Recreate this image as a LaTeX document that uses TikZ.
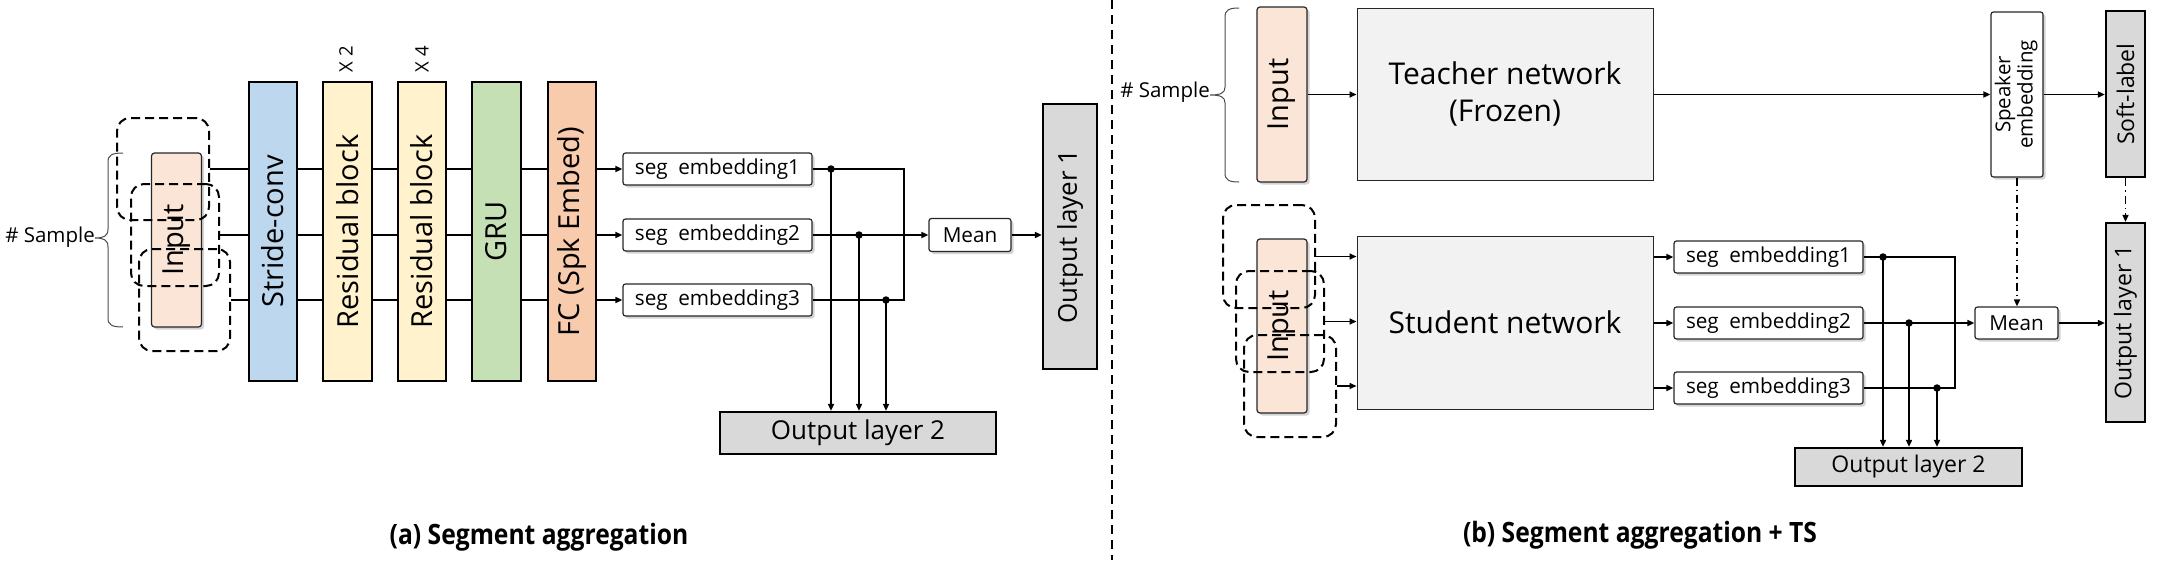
\documentclass[tikz,border=0pt]{standalone}
\usepackage{fontspec}
\usepackage{graphicx}
\setmainfont{Open Sans}
\usetikzlibrary{arrows.meta,shadows,calc}
\definecolor{cInput}{HTML}{FBE5D6}
\definecolor{cStride}{HTML}{BDD7EE}
\definecolor{cRes}{HTML}{FFF2CC}
\definecolor{cGRU}{HTML}{C5E0B4}
\definecolor{cFC}{HTML}{F8CBAD}
\definecolor{cOut}{HTML}{D9D9D9}
\definecolor{cNet}{HTML}{F2F2F2}
\newcommand\fBig{\fontsize{29}{33}\selectfont}
\newcommand\fNet{\fontsize{30}{37}\selectfont}
\newcommand\fSeg{\fontsize{20.7}{24}\selectfont}
\newcommand\fSamp{\fontsize{20.5}{24}\selectfont}
\newcommand\fOutA{\fontsize{26}{30}\selectfont}
\newcommand\fOutB{\fontsize{23}{27}\selectfont}
\newcommand\fSmall{\fontsize{18.5}{21}\selectfont}
\newcommand\fSpk{\fontsize{20.5}{22}\selectfont}
\newcommand\fCap{\fontsize{28}{32}\selectfont\bfseries}
\begin{document}
\begin{tikzpicture}[x=1pt,y=-1pt,
  colbox/.style={draw=black, line width=2pt, minimum width=48pt, minimum height=299pt, inner sep=0pt, font=\fBig},
  inbox/.style={draw=black!85, line width=1.2pt, fill=cInput, rounded corners=3pt, minimum width=50pt, minimum height=174pt, inner sep=0pt, font=\fBig, drop shadow={shadow xshift=2.5pt, shadow yshift=-2.5pt, opacity=0.35}},
  dbox/.style={draw=black, line width=2pt, dash pattern=on 9pt off 5pt, rounded corners=13pt, minimum height=102pt, inner sep=0pt},
  segbox/.style={draw=black!85, line width=1.2pt, fill=white, rounded corners=2.5pt, minimum width=189pt, minimum height=32pt, inner sep=0pt, font=\fSeg, drop shadow={shadow xshift=2.5pt, shadow yshift=-2.5pt, opacity=0.35}},
  outbox/.style={draw=black, line width=2.2pt, fill=cOut, inner sep=0pt},
  netbox/.style={draw=black!85, line width=1pt, fill=cNet, minimum width=296pt, minimum height=173pt, inner sep=0pt, font=\fNet, align=center},
  wire/.style={line width=1.6pt},
  arr/.style={line width=1.6pt, -{Triangle[length=7pt,width=6pt]}},
  dasharr/.style={line width=1.6pt, dash pattern=on 8pt off 4pt on 1.5pt off 4pt, -{Triangle[length=7pt,width=6pt]}},
  dot/.style={circle, fill=black, minimum size=7.5pt, inner sep=0pt},
  bracep/.style={line width=1pt, draw=black!70},
  lbl/.style={inner sep=0pt}
]
\useasboundingbox (0,0) rectangle (2164,560);

% ================= (a) =================
\node[inbox] (inA) at (176.5,240) {\rotatebox{90}{Input}};
\node[dbox, minimum width=92pt] (da1) at (163,169) {};
\node[dbox, minimum width=88pt] (da2) at (175,235) {};
\node[dbox, minimum width=91pt] (da3) at (184.5,300) {};

\node[lbl, anchor=east, font=\fSamp] (sampA) at (95,237) {\# Sample};
\draw[bracep] (123,153) .. controls (112,153) and (108,155) .. (108,162) -- (108,229)
  .. controls (108,236) and (104,238) .. (95,238)
  .. controls (104,238) and (108,240) .. (108,247) -- (108,318)
  .. controls (108,325) and (112,327) .. (123,327);

\node[colbox, fill=cStride] (sc) at (273,231.5) {\rotatebox{90}{Stride-conv}};
\node[colbox, fill=cRes, minimum width=49pt] (r1) at (347.5,231.5) {\rotatebox{90}{Residual block}};
\node[colbox, fill=cRes] (r2) at (422,231.5) {\rotatebox{90}{Residual block}};
\node[colbox, fill=cGRU, minimum width=49pt] (gru) at (496.5,231.5) {\rotatebox{90}{GRU}};
\node[colbox, fill=cFC] (fc) at (572,231.5) {\rotatebox{90}{FC (Spk Embed)}};
\node[lbl, font=\fSmall] (x2) at (346,59) {\rotatebox{90}{X 2}};
\node[lbl, font=\fSmall] (x4) at (422,59) {\rotatebox{90}{X 4}};

\foreach \d in {da1,da2,da3}{
  \draw[wire] (\d.east) -- (\d.east -| sc.west);
  \draw[wire] (\d.east -| sc.east) -- (\d.east -| r1.west);
  \draw[wire] (\d.east -| r1.east) -- (\d.east -| r2.west);
  \draw[wire] (\d.east -| r2.east) -- (\d.east -| gru.west);
  \draw[wire] (\d.east -| gru.east) -- (\d.east -| fc.west);
}

\node[segbox] (sa1) at (717.5,169) {seg\hspace{0.25em} embedding1};
\node[segbox] (sa2) at (717.5,235) {seg\hspace{0.25em} embedding2};
\node[segbox] (sa3) at (717.5,300) {seg\hspace{0.25em} embedding3};
\foreach \s in {sa1,sa2,sa3}{ \draw[arr] (\s.west -| fc.east) -- (\s.west); }

\node[segbox, minimum width=82pt, minimum height=33pt] (meanA) at (970,235) {Mean};
\node[outbox, minimum width=54pt, minimum height=265pt, font=\fOutA] (olA1) at (1070,236.5) {\rotatebox{90}{Output layer 1}};
\node[outbox, minimum width=276pt, minimum height=42pt, font=\fOutA] (olA2) at (858,433) {Output layer 2};

\node[dot] (ja1) at (831,169) {};
\node[dot] (ja2) at (859,235) {};
\node[dot] (ja3) at (886,300) {};
\coordinate (jva) at (904,169);
\draw[wire] (sa1.east) -- (jva) -- (jva |- sa3.east) -- (sa3.east);
\draw[arr] (sa2.east) -- (meanA.west);
\draw[arr] (meanA.east) -- (meanA.east -| olA1.west);
\foreach \j in {ja1,ja2,ja3}{ \draw[arr] (\j.center) -- (\j.center |- olA2.north); }

\node[lbl, font=\fCap] (capA) at (539,537) {\scalebox{0.88}[1]{(a) Segment aggregation}};

% divider
\draw[line width=2pt, dash pattern=on 9pt off 6pt] (1112,0) -- (1112,560);

% ================= (b) =================
\node[inbox, minimum height=175pt] (inT) at (1282,94.5) {\rotatebox{90}{Input}};
\node[lbl, anchor=east, font=\fSamp] (sampB) at (1210,92) {\# Sample};
\draw[bracep] (1239,8) .. controls (1229,8) and (1225,10) .. (1225,17) -- (1225,87)
  .. controls (1225,93) and (1221,95) .. (1210,95)
  .. controls (1221,95) and (1225,97) .. (1225,103) -- (1225,173)
  .. controls (1225,180) and (1229,182) .. (1239,182);

\node[netbox, minimum height=172pt] (teach) at (1505,94) {Teacher network\\(Frozen)};
\node[segbox, minimum width=52pt, minimum height=165pt, font=\fSpk] (spk) at (2017,94.5) {\rotatebox{90}{\begin{tabular}{@{}c@{}}Speaker\\embedding\end{tabular}}};
\node[outbox, minimum width=39pt, minimum height=166pt, font=\fOutB] (soft) at (2125.5,94) {\rotatebox{90}{Soft-label}};
\draw[arr] (inT.east) -- (inT.east -| teach.west);
\draw[arr] (teach.east |- spk.west) -- (spk.west);
\draw[arr] (spk.east) -- (spk.east -| soft.west);

\node[inbox] (inS) at (1282,326) {\rotatebox{90}{Input}};
\node[dbox, minimum width=92pt, minimum height=103pt] (db1) at (1269,256.5) {};
\node[dbox, minimum width=88pt, minimum height=101pt] (db2) at (1280,321.5) {};
\node[dbox, minimum width=92pt] (db3) at (1290,386) {};

\node[netbox] (stud) at (1505,322.5) {Student network};
\foreach \d in {db1,db2,db3}{ \draw[arr] (\d.east) -- (\d.east -| stud.west); }

\node[segbox] (sb1) at (1768.5,257) {seg\hspace{0.25em} embedding1};
\node[segbox] (sb2) at (1768.5,323) {seg\hspace{0.25em} embedding2};
\node[segbox] (sb3) at (1768.5,388) {seg\hspace{0.25em} embedding3};
\foreach \s in {sb1,sb2,sb3}{ \draw[arr] (\s.west -| stud.east) -- (\s.west); }

\node[segbox, minimum width=83pt] (meanB) at (2016.5,323) {Mean};
\node[outbox, minimum width=39pt, minimum height=199pt, font=\fOutB] (olB1) at (2125.5,322.5) {\rotatebox{90}{Output layer 1}};
\node[outbox, minimum width=227pt, minimum height=38pt, font=\fOutB] (olB2) at (1908.5,467) {Output layer 2};

\node[dot] (jb1) at (1883,257) {};
\node[dot] (jb2) at (1909,323) {};
\node[dot] (jb3) at (1937,388) {};
\coordinate (jvb) at (1955,257);
\draw[wire] (sb1.east) -- (jvb) -- (jvb |- sb3.east) -- (sb3.east);
\draw[arr] (sb2.east) -- (meanB.west);
\draw[arr] (meanB.east) -- (meanB.east -| olB1.west);
\foreach \j in {jb1,jb2,jb3}{ \draw[arr] (\j.center) -- (\j.center |- olB2.north); }

\draw[dasharr] (spk.south) -- (spk.south |- meanB.north);
\draw[dasharr] (soft.south) -- (olB1.north);

\node[lbl, font=\fCap] (capB) at (1640,535) {\scalebox{0.88}[1]{(b) Segment aggregation + TS}};
\end{tikzpicture}
\end{document}
